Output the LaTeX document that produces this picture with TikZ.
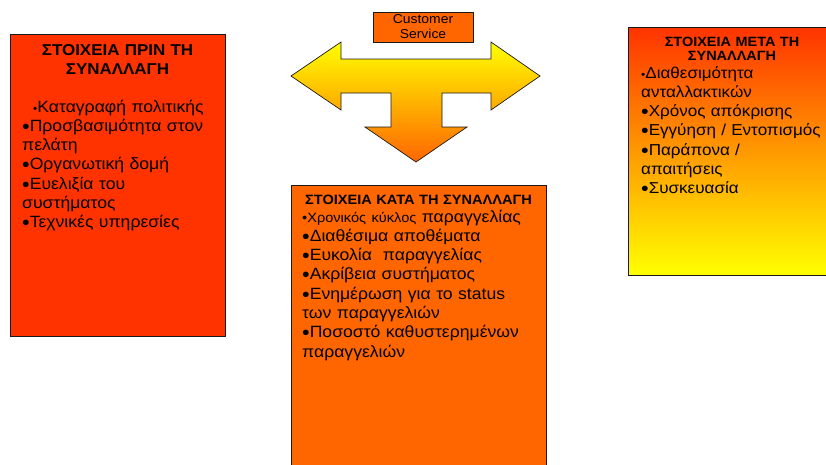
\documentclass[tikz,border=0pt]{standalone}
\usepackage{fontspec}
\setmainfont[FakeStretch=1.08]{Liberation Sans}
\definecolor{redor}{HTML}{FF3300}
\definecolor{orng}{HTML}{FF6600}
\definecolor{yel}{HTML}{FFFF00}
\definecolor{edge}{HTML}{1A1A1A}
% bullets: a small one for some first lines, a heavy one for the rest
\newcommand\smallbul{{\fontsize{11}{0}\selectfont •}}
\newcommand\bigbul{\smash{\raisebox{-1.8pt}{\fontsize{20}{0}\selectfont •}}}
\tikzset{
  panel/.style={draw=edge, line width=0.8pt},
  body/.style={inner sep=0pt, text width=300pt, align=left, anchor=base west,
               font=\fontsize{16.3}{19.3}\selectfont},
  head/.style={inner sep=0pt, align=center, anchor=base,
               font=\bfseries\fontsize{15.7}{19}\selectfont},
}
\begin{document}
\begin{tikzpicture}[x=1pt,y=-1pt]
\useasboundingbox (0,0) rectangle (826,464);
\clip (0,0) rectangle (826,464);

% panels
\fill[white] (0,0) rectangle (826,464);
\draw[panel, fill=redor] (10,34) rectangle (225,336);
\draw[panel, fill=orng] (291,185) rectangle (546,470);
\draw[panel, top color=redor, bottom color=yel] (628,27) rectangle (826,275);

% three-way arrow
\draw[draw=edge, line width=0.7pt, line join=miter, top color=yel, bottom color=orng]
  (291,76) -- (341,42) -- (341,59) -- (491,59) -- (491,42) -- (540,76)
  -- (491,110) -- (491,93) -- (442,93) -- (442,127) -- (467,127)
  -- (416,162) -- (365,127) -- (391,127) -- (391,93) -- (341,93)
  -- (341,110) -- cycle;

% label box over the arrow
\node[draw=edge, line width=0.7pt, fill=orng, minimum width=100pt, minimum height=30pt,
      inner sep=0pt, align=center, font=\fontsize{12.9}{15}\selectfont]
  (cs) at (423,27) {Customer\\Service};

% left panel
\node[head, text width=215pt] (preT) at (117.5,55) {ΣΤΟΙΧΕΙΑ ΠΡΙΝ ΤΗ\\ΣΥΝΑΛΛΑΓΗ};
\node[body] (preB) at (22,112) {\hspace*{11pt}\smallbul Καταγραφή πολιτικής\\
\bigbul Προσβασιμότητα στον\\πελάτη\\\bigbul Οργανωτική δομή\\\bigbul Ευελιξία του\\
συστήματος\\\bigbul Τεχνικές υπηρεσίες};

% middle panel
\node[head, text width=255pt, font=\bfseries\fontsize{13.5}{19}\selectfont] (durT) at (418.5,204) {ΣΤΟΙΧΕΙΑ ΚΑΤΑ ΤΗ ΣΥΝΑΛΛΑΓΗ};
\node[body] (durB) at (302,222) {{\fontsize{13.5}{0}\selectfont •Χρονικός κύκλος} παραγγελίας\\
\bigbul Διαθέσιμα αποθέματα\\\bigbul Ευκολία\ \ παραγγελίας\\\bigbul Ακρίβεια συστήματος\\
\bigbul Ενημέρωση για το status\\των παραγγελιών\\\bigbul Ποσοστό καθυστερημένων\\παραγγελιών};

% right panel
\node[head, text width=198pt, font=\bfseries\fontsize{13.4}{14}\selectfont] (postT) at (732,46) {ΣΤΟΙΧΕΙΑ ΜΕΤΑ ΤΗ\\ΣΥΝΑΛΛΑΓΗ};
\node[body, font=\fontsize{15.8}{19.3}\selectfont] (postB) at (641,78) {\smallbul Διαθεσιμότητα\\ανταλλακτικών\\\bigbul Χρόνος απόκρισης\\
\bigbul Εγγύηση / Εντοπισμός\\\bigbul Παράπονα /\\απαιτήσεις\\\bigbul Συσκευασία};
\end{tikzpicture}
\end{document}
